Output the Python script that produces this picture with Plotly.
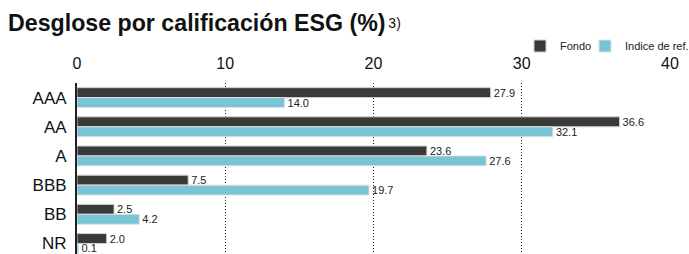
import plotly.graph_objects as go

categories = ["AAA", "AA", "A", "BBB", "BB", "NR"]
fondo = [27.9, 36.6, 23.6, 7.5, 2.5, 2.0]
indice = [14.0, 32.1, 27.6, 19.7, 4.2, 0.1]
x_ticks = [0, 10, 20, 30, 40]

dark = "#3a3b39"
light = "#77c5d5"
font_family = "Liberation Sans, Arial, sans-serif"

fig = go.Figure()
fig.add_trace(go.Bar(
    y=categories, x=fondo, orientation="h", name="Fondo",
    marker=dict(color=dark, line=dict(color="#d0d0d0", width=1)),
    text=[f"{v:.1f}" for v in fondo], textposition="outside",
    textfont=dict(size=11, color="#222"), cliponaxis=False,
    constraintext="none", legendwidth=20,
))
fig.add_trace(go.Bar(
    y=categories, x=indice, orientation="h", name="Indice de ref.",
    marker=dict(color=light, line=dict(color="#e0e0e0", width=1)),
    text=[f"{v:.1f}" for v in indice], textposition="outside",
    textfont=dict(size=11, color="#222"), cliponaxis=False,
    constraintext="none", legendwidth=75,
))

fig.update_layout(
    width=689, height=254,
    margin=dict(l=77, r=19, t=83, b=0, autoexpand=False),
    paper_bgcolor="white", plot_bgcolor="white",
    font=dict(family=font_family, color="#111"),
    barmode="group", bargap=0.32, bargroupgap=0.0,
    title=dict(
        text="<b>Desglose por calificación ESG (%)</b>"
             "<span style='font-size:14px;baseline-shift:3px'>\u20093)</span>",
        x=0, xref="container", xanchor="left",
        y=1 - 23 / 254, yref="container", yanchor="middle",
        pad=dict(l=8, r=0, t=0, b=0),
        font=dict(size=23.2, color="#111"),
    ),
    legend=dict(
        orientation="h", xref="container", yref="container",
        x=520 / 689, xanchor="left", y=1 - 46 / 254, yanchor="middle",
        font=dict(size=11, color="#222"),
        itemwidth=30, traceorder="normal",
        bgcolor="rgba(0,0,0,0)",
    ),
    xaxis=dict(
        side="top", range=[0, 40], tickvals=x_ticks,
        tickfont=dict(size=16, color="#111"),
        showgrid=True, gridcolor="#222", griddash="1px,2px", gridwidth=1,
        zeroline=False, showline=False, ticks="", ticklabelstandoff=10,
        automargin=False,
    ),
    yaxis=dict(
        range=[5.36, -0.5],
        tickfont=dict(size=17, color="#111"),
        showline=True, linecolor="#222", linewidth=2,
        showgrid=False, zeroline=False, ticks="", ticklabelstandoff=5,
        automargin=False,
    ),
)

fig.write_html(
    "out.html",
    config={"displayModeBar": False},
    post_script="document.body.style.margin='0';document.body.style.overflow='hidden';",
)
